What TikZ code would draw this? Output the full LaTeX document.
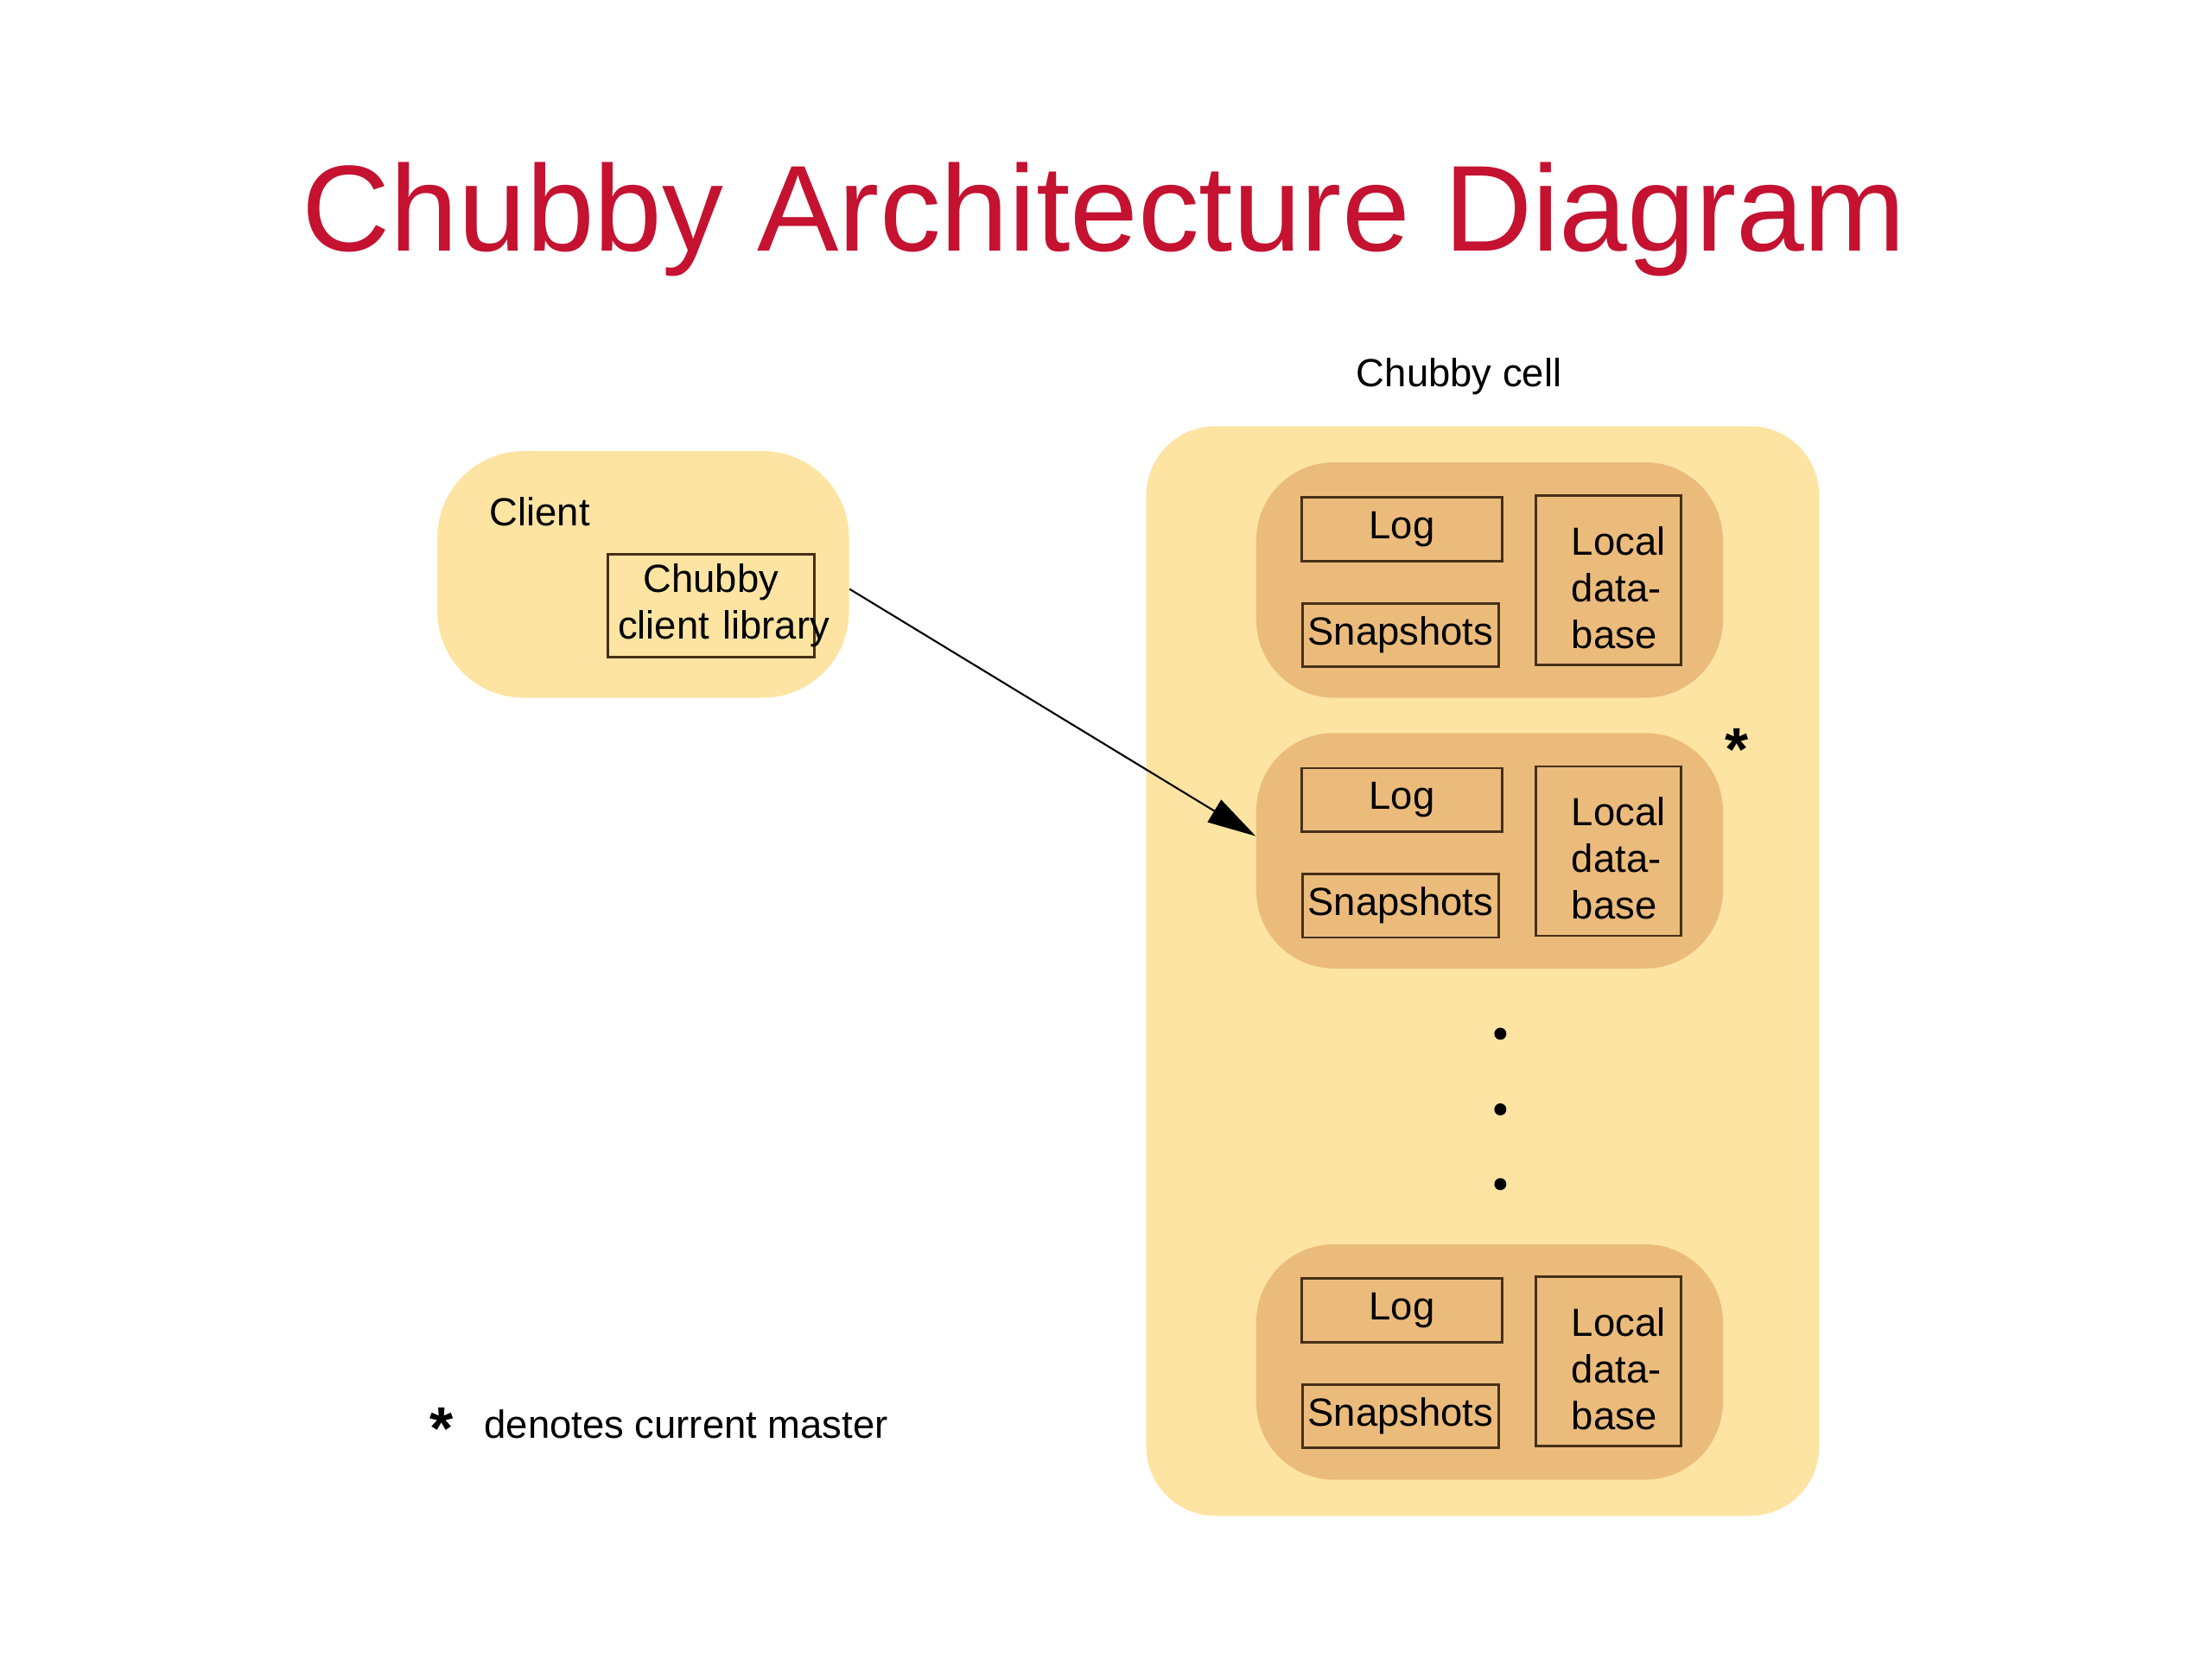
\documentclass[tikz,border=0pt]{standalone}
\usepackage{fontspec}
\setmainfont{Liberation Sans}
\usetikzlibrary{arrows.meta}

\definecolor{cellyellow}{RGB}{253,228,162}
\definecolor{replicaorange}{RGB}{235,187,124}
\definecolor{titlered}{RGB}{196,18,48}
\definecolor{boxline}{RGB}{70,48,24}

\begin{document}
\begin{tikzpicture}[scale=.9945, transform shape,
    font=\fontsize{13}{15.5}\selectfont,
    logbox/.style={minimum width=2.33cm, minimum height=0.74cm},
    snapbox/.style={minimum width=2.28cm, minimum height=0.74cm},
    dbbox/.style={minimum width=1.69cm, minimum height=1.97cm, text width=1.29cm, align=left,
      text height=0.5cm, execute at begin node={\leftskip=2.2mm}},
    starmark/.style={anchor=base, inner sep=0, font=\fontsize{20}{20}\selectfont\bfseries},
    dot/.style={circle, fill=black, inner sep=0, minimum size=0.14cm}]

  \useasboundingbox (0,0) rectangle (25.742,-19.306);
  \fill[white] (0,0) rectangle (25.742,-19.306);

  \node[anchor=base, text=titlered, font=\fontsize{40.5}{48}\selectfont] (title) at (12.85,-2.92) {Chubby Architecture Diagram};

  \begin{scope}[every node/.style={fill=cellyellow, inner sep=0}]
    \node[minimum width=7.83cm, minimum height=12.68cm, rounded corners=0.8cm] (cell) at (17.255,-11.30) {};
    \node[minimum width=4.79cm, minimum height=2.87cm, rounded corners=1cm] (client) at (7.485,-6.685) {};
  \end{scope}

  \begin{scope}[every node/.style={fill=replicaorange, rounded corners=0.9cm, minimum width=5.43cm, minimum height=2.74cm}]
    \node (rep1) at (17.335,-6.75) {};
    \node (rep2) at (17.335,-9.90) {};
    \node (rep3) at (17.335,-15.85) {};
  \end{scope}

  \begin{scope}[every node/.style={draw=boxline, line width=0.8pt, inner sep=0}]
    \node[logbox]  (log1)  at (16.315,-6.16)  {Log};
    \node[snapbox] (snap1) at (16.30,-7.39)   {Snapshots};
    \node[dbbox]   (db1)   at (18.715,-6.755) {Local\\data-\\base};

    \node[logbox]  (log2)  at (16.315,-9.31)  {Log};
    \node[snapbox] (snap2) at (16.30,-10.54)  {Snapshots};
    \node[dbbox]   (db2)   at (18.715,-9.905) {Local\\data-\\base};

    \node[logbox]  (log3)  at (16.315,-15.25)  {Log};
    \node[snapbox] (snap3) at (16.30,-16.48)   {Snapshots};
    \node[dbbox]   (db3)   at (18.715,-15.845) {Local\\data-\\base};

    \node[minimum height=1.20cm, text width=2.41cm, align=center] (lib) at (8.275,-7.05)
      {\mbox{Chubby}\hspace*{0.27cm}\\\hspace*{0.12cm}\mbox{client library}};
  \end{scope}

  \node[anchor=base] (celllabel) at (16.98,-4.50) {Chubby cell};
  \node[anchor=base west, inner sep=0] (clientlabel) at (5.69,-6.12) {Client};

  \node[starmark] (masterstar) at (20.21,-8.96) {*};

  \node[dot] (dot1) at (17.46,-12.03) {};
  \node[dot] (dot2) at (17.46,-12.91) {};
  \node[dot] (dot3) at (17.46,-13.78) {};

  \node[starmark] (legendstar) at (5.14,-16.87) {*};
  \node[anchor=base west, inner sep=0] (legend) at (5.63,-16.74) {denotes current master};

  \draw[-{Triangle[length=5.6mm,width=3mm]}, line width=0.6pt] ([yshift=-1.7mm]client.east) -- ([yshift=1.7mm]rep2.west);

\end{tikzpicture}
\end{document}
